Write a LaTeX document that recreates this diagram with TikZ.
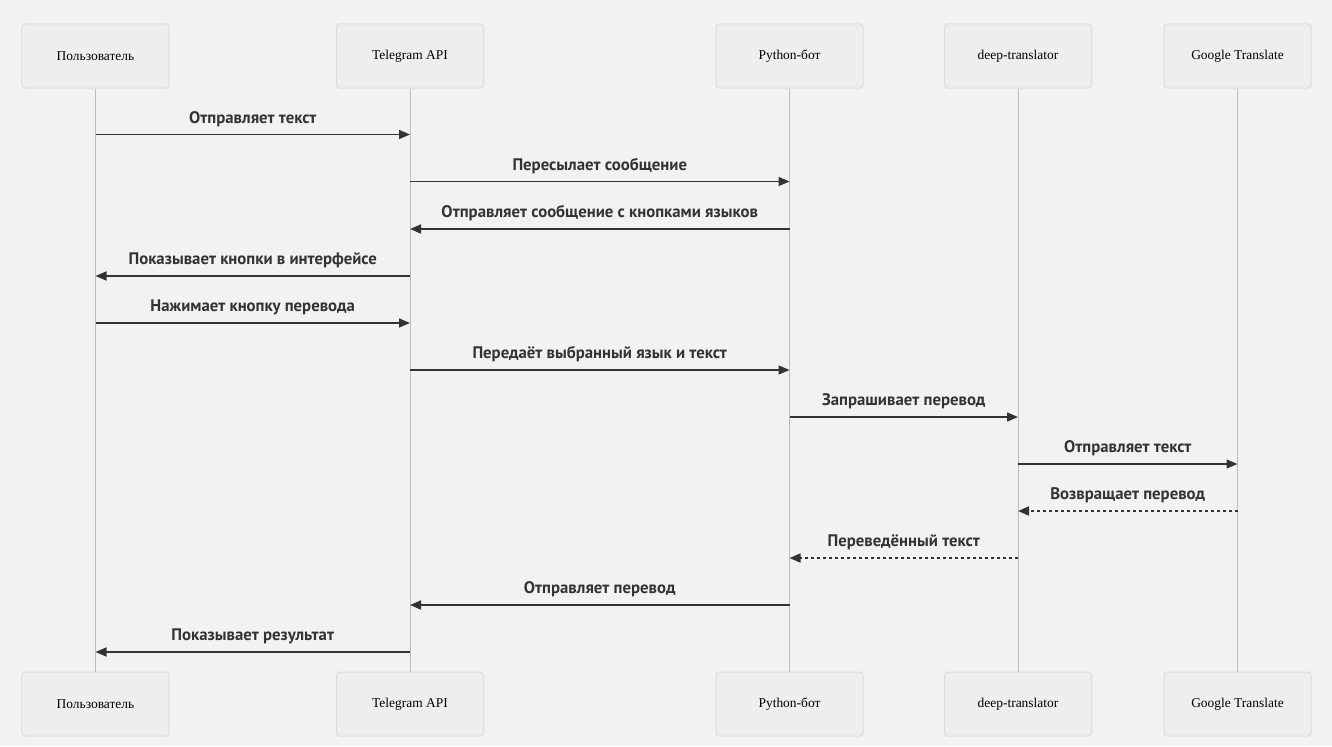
\documentclass[tikz,border=0pt]{standalone}
\usepackage{fontspec}
\setmainfont{Liberation Serif}
\newfontfamily\lblfont{PT Sans}
\usetikzlibrary{arrows.meta}
\definecolor{bgc}{HTML}{F2F2F2}
\definecolor{boxfill}{HTML}{EEEEEE}
\definecolor{boxline}{HTML}{DEDEDE}
\definecolor{lifec}{HTML}{BDBDBD}
\definecolor{ink}{HTML}{333333}
\begin{document}
\begin{tikzpicture}[x=1bp,y=-1bp,
  actor/.style={draw=boxline, fill=boxfill, line width=1bp, rounded corners=3bp,
    minimum width=147bp, minimum height=64bp, inner sep=0pt,
    font=\fontsize{13.5}{16}\selectfont, text=black},
  life/.style={draw=lifec, line width=1bp},
  msg/.style={draw=ink, line width=1.6bp, -{Triangle[length=11bp,width=9bp]}},
  ret/.style={msg, dash pattern=on 3bp off 3bp},
  lbl/.style={midway, anchor=base, yshift=11.5bp, inner sep=0pt, text=ink,
    font=\lblfont\bfseries\fontsize{16.8}{19}\selectfont}]
\fill[bgc] (0,0) rectangle (1332,746);
\useasboundingbox (0,0) rectangle (1332,746);
% actors
\node[actor] (ua) at (95.5,56) {Пользователь};
\node[actor] (ta) at (410,56) {Telegram API};
\node[actor] (pa) at (789.5,56) {Python-бот};
\node[actor] (da) at (1018,56) {deep-translator};
\node[actor] (ga) at (1237.5,56) {Google Translate};
\node[actor] (ub) at (95.5,704) {Пользователь};
\node[actor] (tb) at (410,704) {Telegram API};
\node[actor] (pb) at (789.5,704) {Python-бот};
\node[actor] (db) at (1018,704) {deep-translator};
\node[actor] (gb) at (1237.5,704) {Google Translate};
% lifelines
\draw[life] (ua.south) -- (ub.north);
\draw[life] (ta.south) -- (tb.north);
\draw[life] (pa.south) -- (pb.north);
\draw[life] (da.south) -- (db.north);
\draw[life] (ga.south) -- (gb.north);
% rows
\coordinate (r1) at (0,134.5);
\coordinate (r2) at (0,181.5);
\coordinate (r3) at (0,229);
\coordinate (r4) at (0,276);
\coordinate (r5) at (0,323);
\coordinate (r6) at (0,370);
\coordinate (r7) at (0,417);
\coordinate (r8) at (0,464);
\coordinate (r9) at (0,511);
\coordinate (r10) at (0,558);
\coordinate (r11) at (0,605);
\coordinate (r12) at (0,652);
% messages
\draw[msg] (ua |- r1) -- node[lbl]{Отправляет текст} (ta |- r1);
\draw[msg] (ta |- r2) -- node[lbl]{Пересылает сообщение} (pa |- r2);
\draw[msg] (pa |- r3) -- node[lbl]{Отправляет сообщение с кнопками языков} (ta |- r3);
\draw[msg] (ta |- r4) -- node[lbl]{Показывает кнопки в интерфейсе} (ua |- r4);
\draw[msg] (ua |- r5) -- node[lbl]{Нажимает кнопку перевода} (ta |- r5);
\draw[msg] (ta |- r6) -- node[lbl]{Передаёт выбранный язык и текст} (pa |- r6);
\draw[msg] (pa |- r7) -- node[lbl]{Запрашивает перевод} (da |- r7);
\draw[msg] (da |- r8) -- node[lbl]{Отправляет текст} (ga |- r8);
\draw[ret] (ga |- r9) -- node[lbl]{Возвращает перевод} (da |- r9);
\draw[ret] (da |- r10) -- node[lbl]{Переведённый текст} (pa |- r10);
\draw[msg] (pa |- r11) -- node[lbl]{Отправляет перевод} (ta |- r11);
\draw[msg] (ta |- r12) -- node[lbl]{Показывает результат} (ua |- r12);
\end{tikzpicture}
\end{document}
